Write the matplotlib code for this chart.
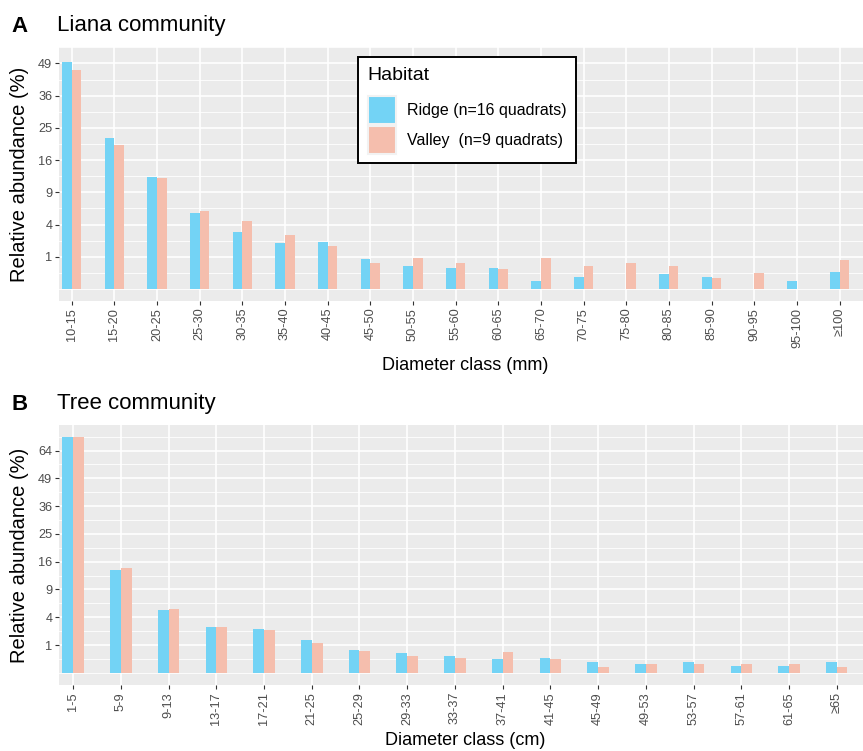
"""Relative abundance by diameter class, ridge vs valley (liana and tree panels)."""

import numpy as np
import matplotlib

matplotlib.use("Agg")
import matplotlib.pyplot as plt
from matplotlib.patches import Patch

plt.rcParams["font.family"] = ["Liberation Sans", "DejaVu Sans"]

# --- data -------------------------------------------------------------------
liana_classes = ["10-15", "15-20", "20-25", "25-30", "30-35", "35-40", "40-45",
                 "45-50", "50-55", "55-60", "60-65", "65-70", "70-75", "75-80",
                 "80-85", "85-90", "90-95", "95-100", "≥100"]
liana_ridge = [49.6, 21.9, 12.1, 5.64, 3.10, 2.02, 2.11, 0.87, 0.51, 0.43, 0.43,
               0.066, 0.14, 0.0, 0.22, 0.14, 0.0, 0.066, 0.28]
liana_valley = [46.2, 19.9, 11.9, 5.94, 4.40, 2.78, 1.77, 0.65, 0.93, 0.65, 0.39,
                0.93, 0.51, 0.65, 0.51, 0.12, 0.25, 0.0, 0.81]

tree_classes = ["1-5", "5-9", "9-13", "13-17", "17-21", "21-25", "25-29", "29-33",
                "33-37", "37-41", "41-45", "45-49", "49-53", "53-57", "57-61",
                "61-65", "≥65"]
tree_ridge = [72.3, 13.7, 5.11, 2.72, 2.49, 1.39, 0.67, 0.51, 0.37, 0.245, 0.28,
              0.15, 0.10, 0.15, 0.06, 0.06, 0.15]
tree_valley = [72.3, 14.2, 5.28, 2.72, 2.37, 1.15, 0.62, 0.37, 0.28, 0.56, 0.245,
               0.044, 0.10, 0.10, 0.10, 0.11, 0.044]

RIDGE_LABEL = "Ridge (n=16 quadrats)"
VALLEY_LABEL = "Valley  (n=9 quadrats)"
RIDGE_COL = "#73D3F5"
VALLEY_COL = "#F5BEAD"
PANEL_BG = "#EBEBEB"
TICK_COL = "#4D4D4D"


def fwd(v):
    v = np.asarray(v, dtype=float)
    return np.sign(v) * np.sqrt(np.abs(v))


def inv(v):
    v = np.asarray(v, dtype=float)
    return np.sign(v) * v ** 2


def draw_panel(ax, classes, ridge, valley, n_major, top_sqrt, bot_sqrt, xlabel):
    x = np.arange(len(classes))
    w = 0.225
    ax.bar(x - w / 2, ridge, width=w, color=RIDGE_COL, linewidth=0, zorder=3)
    ax.bar(x + w / 2, valley, width=w, color=VALLEY_COL, linewidth=0, zorder=3)

    ax.set_yscale("function", functions=(fwd, inv))
    ax.set_ylim(-(bot_sqrt ** 2), top_sqrt ** 2)
    majors = np.arange(1, n_major + 1) ** 2
    ax.set_yticks(majors)
    ax.set_yticklabels([str(m) for m in majors])
    minors = np.concatenate([[0.0], (np.arange(n_major + 1) + 0.5) ** 2])
    ax.set_yticks(minors, minor=True)

    ax.set_xticks(x)
    ax.set_xticklabels(classes, rotation=90)
    ax.set_xlim(-0.29, len(classes) - 1 + 0.55)

    ax.set_facecolor(PANEL_BG)
    for s in ax.spines.values():
        s.set_visible(False)
    ax.grid(True, which="major", color="white", linewidth=1.2, zorder=1)
    ax.grid(True, which="minor", axis="y", color="white", linewidth=0.6, zorder=1)
    ax.set_axisbelow(True)
    ax.tick_params(axis="both", which="major", colors="#333333", labelcolor=TICK_COL,
                   labelsize=9.2, length=3, width=0.8, pad=2)
    ax.tick_params(axis="y", which="minor", length=0)

    ax.set_ylabel("Relative abundance (%)", fontsize=14.5)
    ax.set_xlabel(xlabel, fontsize=13)


fig = plt.figure(figsize=(8.63, 7.51), dpi=100)
W, H = 863, 751
axA = fig.add_axes([59.3 / W, 1 - 300.7 / H, 1 - 59.3 / W, (300.7 - 47.3) / H])
axB = fig.add_axes([59.3 / W, 1 - 685 / H, 1 - 59.3 / W, (685 - 425) / H])

draw_panel(axA, liana_classes, liana_ridge, liana_valley, 7, 7.4, 0.36,
           "Diameter class (mm)")
draw_panel(axB, tree_classes, tree_ridge, tree_valley, 8, 8.92, 0.44,
           "Diameter class (cm)")

axA.yaxis.set_label_coords(-0.05, 0.5)
axA.yaxis.label.set_va("center")
axB.yaxis.set_label_coords(-0.05, 0.5)
axB.yaxis.label.set_va("center")
axA.xaxis.set_label_coords(0.505, -0.254)
axA.xaxis.label.set_va("center")
axB.xaxis.set_label_coords(0.505, -0.212)
axB.xaxis.label.set_va("center")

fig.text(11 / W, 1 - 26 / H, "A", fontsize=16, fontweight="bold", va="center")
fig.text(57 / W, 1 - 26 / H, "Liana community", fontsize=16, va="center")
fig.text(11 / W, 1 - 404 / H, "B", fontsize=16, fontweight="bold", va="center")
fig.text(57 / W, 1 - 404 / H, "Tree community", fontsize=16, va="center")

handles = [Patch(facecolor=RIDGE_COL, edgecolor="#F2F2F2", linewidth=1.5),
           Patch(facecolor=VALLEY_COL, edgecolor="#F2F2F2", linewidth=1.5)]
leg = axA.legend(handles, [RIDGE_LABEL, VALLEY_LABEL], title="Habitat",
                 loc="upper left", bbox_to_anchor=((358 - 59.3) / 803.7, 1 - (57 - 47.3) / 253.4),
                 borderaxespad=0, fontsize=11.5, title_fontsize=14,
                 handlelength=1.75, handleheight=2.3, labelspacing=0.12,
                 handletextpad=0.7, borderpad=0.6, fancybox=False,
                 framealpha=1, edgecolor="black")
leg._legend_box.align = "left"
leg._legend_box.sep = 9
leg.get_frame().set_linewidth(1.4)
leg.set_zorder(10)

fig.savefig("out.png", dpi=100)
